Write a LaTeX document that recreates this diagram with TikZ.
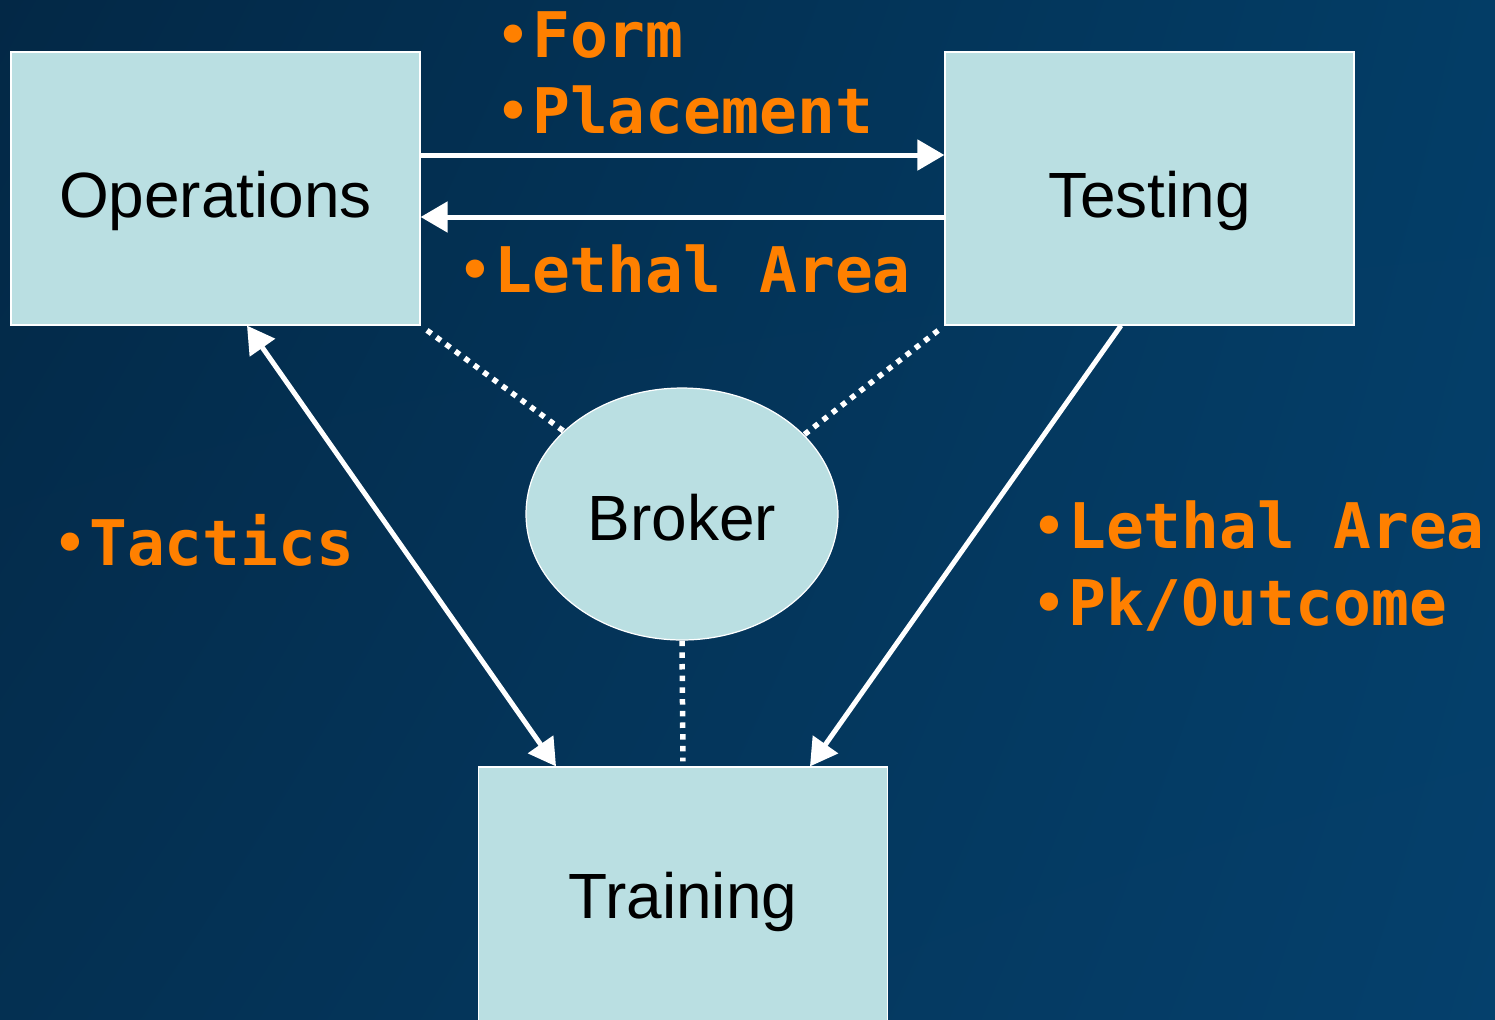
\documentclass[tikz,border=0pt]{standalone}
\usepackage{fontspec}
\setmainfont{Liberation Sans}
\setmonofont{DejaVu Sans Mono}
\usetikzlibrary{arrows.meta,shapes.geometric,shadings}
\definecolor{boxfill}{RGB}{186,223,226}
\definecolor{itemorange}{RGB}{255,128,0}
\definecolor{bgUL}{RGB}{3,40,70}
\definecolor{bgUR}{RGB}{3,61,102}
\definecolor{bgLL}{RGB}{4,48,82}
\definecolor{bgLR}{RGB}{5,64,108}
\newcommand{\itemdot}{{\mdseries •}}

\begin{document}
\begin{tikzpicture}[x=0.02cm,y=-0.02cm,>={Triangle[length=0.54cm,width=0.6cm]},
  box/.style={draw=white,line width=0.7pt,fill=boxfill,minimum width=8.18cm,minimum height=5.46cm,inner sep=0pt,
    font=\fontsize{36.4pt}{44pt}\selectfont,text height=1.14cm,text depth=0pt},
  hub/.style={box,ellipse,minimum width=6.24cm,minimum height=5.04cm,text height=1.04cm},
  item/.style={anchor=base west,inner sep=0pt,text=itemorange,font=\fontsize{35.8pt}{43pt}\selectfont\ttfamily\bfseries},
  link/.style={->,white,line width=0.1cm},
  tie/.style={white,line width=0.11cm,dash pattern=on 0.11cm off 0.124cm}]
\useasboundingbox (0,0) rectangle (1495,1019);
\clip (0,0) rectangle (1495,1019);
\shade[upper left=bgUL,upper right=bgUR,lower left=bgLL,lower right=bgLR] (0,0) rectangle (1495,1019);
\node[box] (ops) at (215.5,188.5) {Operations};
\node[box] (tst) at (1149.5,188.5) {Testing};
\node[box,text depth=0.56cm] (train) at (683,903.5) {Training};
\node[hub] (broker) at (682,514) {Broker};
\draw[link] ([yshift=0.67cm]ops.east) -- ([yshift=0.67cm]tst.west);
\draw[link] ([yshift=-0.57cm]tst.west) -- ([yshift=-0.57cm]ops.east);
\draw[link,<->] ([xshift=0.63cm]ops.south) -- ([xshift=-2.54cm]train.north);
\draw[link] ([xshift=-0.57cm]tst.south) -- ([xshift=2.54cm]train.north);
% dotted ties to the broker
\draw[tie,shorten <=0.16cm] (ops.south east) -- (broker.145);
\draw[tie,shorten <=0.16cm] (tst.south west) -- (broker.33);
\draw[tie,shorten >=0.1cm] (broker.south) -- (train.north);
\node[item] (formItem) at (494,57) {\itemdot Form};
\node[item] (placeItem) at (494,133) {\itemdot Placement};
\node[item] (lethalItem) at (456,292) {\itemdot Lethal Area};
\node[item] (tacticsItem) at (51,565) {\itemdot Tactics};
\node[item] (lethalOutItem) at (1030,548) {\itemdot Lethal Area};
\node[item] (pkItem) at (1030,625) {\itemdot Pk/Outcome};
\end{tikzpicture}
\end{document}
